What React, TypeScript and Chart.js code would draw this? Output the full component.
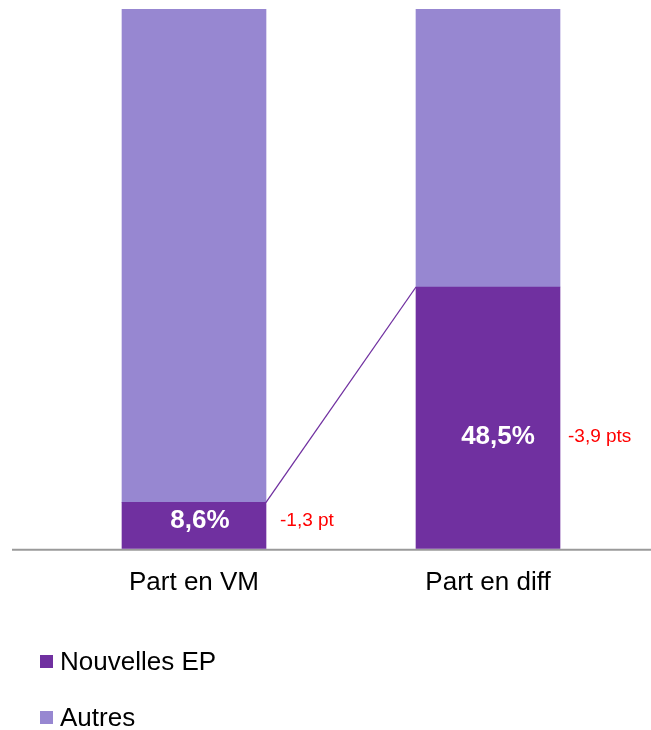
import React, { useEffect, useRef } from "react";
import { Chart, registerables } from "chart.js";

Chart.register(...registerables);

const categories = ["Part en VM", "Part en diff"];
const seriesNames = ["Nouvelles EP", "Autres"];
const nouvellesEP = [8.6, 48.5];
const autres = [91.4, 51.5];
const deltaLabels = ["-1,3 pt", "-3,9 pts"];

const DARK = "#7030A0";
const LIGHT = "#9787D1";
const FONT = "'Liberation Sans', Arial, sans-serif";

const LABEL_DX = [6, 10];
const LABEL_DY = [-5, 19];
const DELTA_GAP = [14, 8];

const fmt = (v: number) => v.toFixed(1).replace(".", ",") + "%";

const overlayPlugin = {
  id: "overlay",
  beforeDatasetsDraw(chart: any) {
    const ctx = chart.ctx;
    const y0 = chart.scales.y.getPixelForValue(0);
    ctx.save();
    ctx.strokeStyle = "#9a9a9a";
    ctx.lineWidth = 2;
    ctx.beginPath();
    ctx.moveTo(12, y0 + 1);
    ctx.lineTo(chart.width, y0 + 1);
    ctx.stroke();
    ctx.restore();
  },
  afterDatasetsDraw(chart: any) {
    const ctx = chart.ctx;
    const meta = chart.getDatasetMeta(0);
    const els = meta.data;
    ctx.save();
    if (els.length > 1) {
      const a = els[0];
      const b = els[1];
      ctx.strokeStyle = DARK;
      ctx.lineWidth = 1.3;
      ctx.beginPath();
      ctx.moveTo(a.x + a.width / 2, a.y);
      ctx.lineTo(b.x - b.width / 2, b.y);
      ctx.stroke();
    }
    els.forEach((el: any, i: number) => {
      const cy = (el.y + el.base) / 2 + LABEL_DY[i];
      ctx.fillStyle = "#ffffff";
      ctx.font = `bold 26px ${FONT}`;
      ctx.textAlign = "center";
      ctx.textBaseline = "middle";
      ctx.fillText(fmt(nouvellesEP[i]), el.x + LABEL_DX[i], cy);
      ctx.fillStyle = "#ff0000";
      ctx.font = `19px ${FONT}`;
      ctx.textAlign = "left";
      ctx.fillText(deltaLabels[i], el.x + el.width / 2 + DELTA_GAP[i], cy);
    });
    ctx.restore();
  },
};

export default function App() {
  const ref = useRef<HTMLCanvasElement | null>(null);
  useEffect(() => {
    if (!ref.current) return;
    const chart = new Chart(ref.current, {
      type: "bar",
      data: {
        labels: categories,
        datasets: [
          { label: seriesNames[0], data: nouvellesEP, backgroundColor: DARK },
          { label: seriesNames[1], data: autres, backgroundColor: LIGHT },
        ],
      },
      options: {
        animation: false,
        responsive: false,
        maintainAspectRatio: false,
        layout: { padding: { left: 47, right: 16, top: 9, bottom: 114 } },
        plugins: { legend: { display: false }, tooltip: { enabled: false } },
        datasets: { bar: { barThickness: 144 } },
        scales: {
          x: {
            stacked: true,
            grid: { display: false, drawTicks: false },
            border: { display: false },
            ticks: { color: "#000", font: { family: FONT, size: 26 }, padding: 18 },
          },
          y: { stacked: true, display: false, min: 0, max: 100 },
        },
      },
      plugins: [overlayPlugin],
    });
    return () => chart.destroy();
  }, []);

  const legendItem = (name: string, color: string, top: number) => (
    <div style={{ position: "absolute", left: 40, top, height: 30, display: "flex", alignItems: "center" }}>
      <div style={{ width: 13, height: 13, background: color, marginRight: 7 }} />
      <span style={{ fontFamily: FONT, fontSize: 26, color: "#000", lineHeight: "30px" }}>{name}</span>
    </div>
  );

  return (
    <div style={{ position: "absolute", left: 0, top: 0, width: 651, height: 730, background: "#fff" }}>
      <canvas ref={ref} width={651} height={730} style={{ position: "absolute", left: 0, top: 0 }} />
      {legendItem(seriesNames[0], DARK, 646)}
      {legendItem(seriesNames[1], LIGHT, 702)}
    </div>
  );
}
